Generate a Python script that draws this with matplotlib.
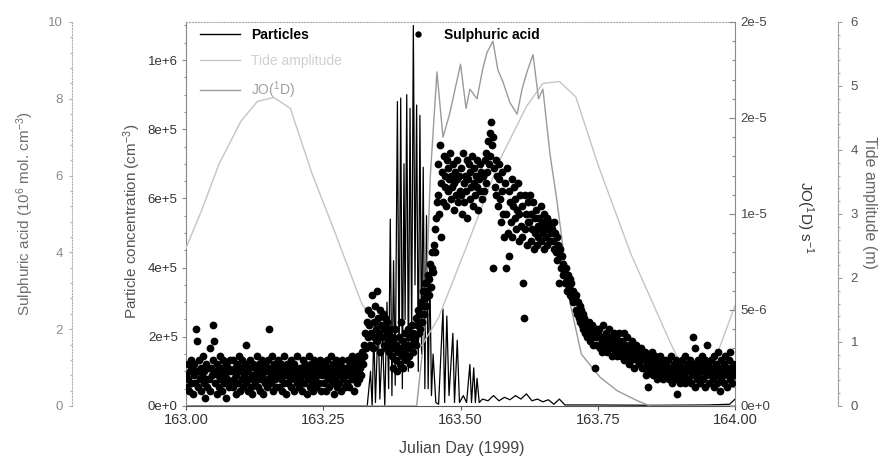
import numpy as np
import matplotlib.pyplot as plt
from matplotlib.lines import Line2D
from matplotlib.ticker import AutoMinorLocator, FixedLocator, FixedFormatter

plt.rcParams['font.family'] = ['Liberation Sans', 'DejaVu Sans']
plt.rcParams['mathtext.default'] = 'regular'

# ---------------------------------------------------------------------------
# data
# ---------------------------------------------------------------------------

# particle concentration, units of 1e5 cm-3
particle_day = [163.000, 163.330, 163.336, 163.339, 163.342, 163.345, 163.350, 163.353,
                163.358, 163.362, 163.366, 163.369, 163.372, 163.375, 163.378, 163.381,
                163.385, 163.388, 163.391, 163.394, 163.397, 163.399, 163.402, 163.405,
                163.408, 163.411, 163.414, 163.417, 163.420, 163.423, 163.426, 163.429,
                163.432, 163.435, 163.438, 163.441, 163.444, 163.447, 163.450, 163.455,
                163.460, 163.468, 163.471, 163.475, 163.479, 163.486, 163.489, 163.494,
                163.498, 163.505, 163.511, 163.517, 163.520, 163.524, 163.527, 163.530,
                163.534, 163.540, 163.550, 163.560, 163.570, 163.580, 163.590, 163.600,
                163.610, 163.620, 163.630, 163.640, 163.650, 163.660, 163.670, 163.680,
                163.690, 163.750, 163.850, 163.950, 163.990, 164.000]
particle_conc = [0, 0, 1.0, 0, 2.2, 0.1, 2.5, 0.2,
                 2.0, 0, 3.0, 0.5, 5.4, 0.3, 4.2, 0.6,
                 8.8, 1.0, 8.9, 0.5, 7.0, 2.5, 9.0, 1.0,
                 8.6, 2.0, 11.0, 3.5, 8.7, 1.0, 8.4, 1.5,
                 6.9, 0.5, 5.5, 0.5, 4.0, 0.3, 1.5, 0.1,
                 0.05, 2.8, 0.1, 2.6, 0.3, 2.1, 0.1, 1.9,
                 0.1, 0.3, 0.1, 1.2, 0.1, 1.1, 0.1, 0.8,
                 0.1, 0.2, 0.15, 0.3, 0.15, 0.25, 0.18, 0.3,
                 0.2, 0.35, 0.15, 0.2, 0.12, 0.18, 0.05, 0.2,
                 0.03, 0.03, 0.02, 0.03, 0.05, 0.2]

# tide amplitude (m)
tide_day = [163.00, 163.03, 163.06, 163.10, 163.13, 163.16, 163.19, 163.23, 163.27,
            163.32, 163.36, 163.40, 163.43, 163.46, 163.52, 163.57, 163.62, 163.65,
            163.68, 163.71, 163.75, 163.81, 163.88, 163.90, 163.94, 163.96, 164.00]
tide_m = [2.47, 3.09, 3.78, 4.45, 4.76, 4.82, 4.65, 3.62, 2.74,
          1.60, 1.03, 0.84, 0.95, 1.38, 2.69, 3.82, 4.68, 5.04,
          5.07, 4.83, 3.78, 2.38, 1.03, 0.67, 0.51, 0.64, 1.57]

# JO(1D), units of 1e-6 s-1
jo_day = [163.00, 163.42, 163.435, 163.445, 163.457, 163.468, 163.48, 163.49, 163.50,
          163.51, 163.517, 163.53, 163.54, 163.548, 163.559, 163.568, 163.577, 163.59,
          163.603, 163.612, 163.621, 163.632, 163.642, 163.65, 163.663, 163.675, 163.69,
          163.70, 163.72, 163.754, 163.785, 163.82, 163.845, 164.00]
jo_val = [0, 0, 4.0, 12.0, 17.4, 14.0, 15.2, 16.5, 17.8,
          15.5, 16.5, 16.0, 17.5, 18.4, 19.0, 17.5, 16.9, 15.8,
          15.2, 16.5, 17.4, 18.3, 16.0, 16.5, 13.1, 10.8, 7.5,
          5.3, 2.7, 1.5, 0.8, 0.3, 0.0, 0.0]

# sulphuric acid (1e6 molecules cm-3), one row per hour of day 163, 2 min samples
acid_step_min = 2
acid_hourly = [
    [0.8, 0.5, 1.1, 0.7, 0.4, 0.9, 1.2, 0.6, 1.0, 0.3, 0.8, 1.1, 0.6, 2.0, 1.7,
     0.9, 0.5, 1.2, 0.7, 1.0, 0.4, 0.8, 1.3, 0.6, 0.9, 0.2, 1.1, 0.7, 0.5, 1.0],
    [0.7, 1.5, 0.4, 1.0, 0.8, 1.2, 2.1, 1.7, 0.6, 0.9, 0.3, 1.1, 0.8, 0.5, 1.3,
     0.7, 1.0, 0.4, 0.9, 1.2, 0.6, 0.8, 0.2, 1.1, 0.7, 1.0, 0.5, 0.9, 1.2, 0.6],
    [0.9, 0.5, 1.2, 0.7, 1.0, 0.3, 0.8, 1.1, 0.6, 1.3, 0.9, 0.4, 1.0, 0.7, 1.2,
     0.5, 0.8, 1.1, 0.6, 1.6, 0.9, 0.4, 1.0, 0.7, 1.2, 0.5, 0.8, 0.3, 1.1, 0.7],
    [0.6, 1.0, 0.8, 1.3, 0.5, 0.9, 1.1, 0.4, 0.7, 1.2, 0.8, 0.3, 1.0, 0.6, 1.1,
     0.9, 0.5, 1.2, 0.7, 2.0, 1.0, 0.6, 0.8, 1.3, 0.4, 0.9, 1.1, 0.7, 0.5, 1.0],
    [0.8, 1.2, 0.5, 0.9, 0.7, 1.1, 0.4, 1.0, 0.6, 1.3, 0.8, 0.3, 0.9, 1.1, 0.6,
     1.0, 0.7, 1.2, 0.5, 0.8, 1.0, 0.4, 1.1, 0.7, 0.9, 1.3, 0.6, 0.8, 0.5, 1.0],
    [0.7, 1.0, 0.4, 1.2, 0.8, 0.6, 1.1, 0.9, 0.3, 1.0, 0.7, 1.3, 0.5, 0.8, 1.1,
     0.6, 0.9, 0.4, 1.2, 0.7, 1.0, 0.5, 0.8, 1.1, 0.6, 0.9, 1.2, 0.4, 0.8, 1.0],
    [0.9, 0.6, 1.1, 0.4, 0.8, 1.2, 0.7, 1.0, 0.5, 0.9, 1.3, 0.6, 0.8, 1.1, 0.3,
     0.9, 0.7, 1.2, 0.5, 1.0, 0.8, 0.6, 1.1, 0.4, 0.9, 1.2, 0.7, 1.0, 0.5, 0.8],
    [1.0, 0.6, 1.2, 0.8, 0.5, 1.1, 0.9, 1.3, 0.7, 1.0, 0.4, 1.2, 0.8, 1.1, 0.6,
     0.9, 1.3, 0.7, 1.0, 1.2, 0.8, 1.4, 1.1, 1.6, 1.3, 1.9, 1.5, 2.2, 1.8, 2.5],
    [2.1, 1.6, 2.4, 1.9, 2.9, 1.5, 2.2, 1.8, 2.6, 2.0, 3.0, 1.7, 2.3, 1.9, 2.5,
     1.4, 2.1, 1.8, 2.4, 1.6, 2.0, 2.3, 1.5, 1.9, 2.2, 1.7, 1.4, 2.0, 1.6, 1.8],
    [1.3, 1.7, 1.0, 1.5, 2.0, 1.2, 1.6, 0.9, 1.4, 1.8, 1.1, 1.5, 2.2, 1.3, 1.7,
     1.0, 1.4, 1.9, 1.2, 1.6, 1.5, 2.0, 1.3, 1.8, 1.1, 1.6, 2.1, 1.4, 1.9, 1.7],
    [1.8, 2.3, 1.6, 2.1, 2.5, 1.9, 2.4, 2.0, 2.7, 2.2, 2.6, 3.0, 2.4, 2.8, 3.2,
     2.6, 3.0, 3.4, 2.9, 3.3, 3.7, 3.1, 3.6, 4.0, 3.5, 4.2, 4.6, 4.0, 4.9, 5.3],
    [5.5, 6.3, 5.0, 6.8, 5.8, 4.4, 6.1, 5.3, 6.5, 5.7, 6.0, 5.2, 6.4, 5.6, 6.2,
     5.9, 6.6, 5.4, 6.0, 5.7, 6.3, 5.1, 5.8, 6.1, 5.5, 6.4, 5.9, 5.3, 6.0, 5.6],
    [5.5, 6.2, 5.0, 6.6, 5.8, 5.3, 6.0, 5.6, 6.4, 4.9, 5.9, 6.3, 5.4, 6.1, 5.7,
     6.5, 5.2, 5.8, 6.2, 5.5, 6.0, 5.7, 6.4, 5.1, 5.9, 6.3, 5.6, 6.1, 5.4, 6.0],
    [6.0, 5.6, 6.4, 5.8, 6.6, 6.1, 6.9, 6.3, 7.1, 6.5, 7.4, 6.8, 7.0, 3.6, 6.2,
     5.7, 6.4, 5.5, 6.0, 5.2, 5.9, 6.3, 5.4, 4.8, 6.1, 5.6, 5.0, 4.4, 5.8, 3.6],
    [5.0, 6.2, 4.5, 5.6, 3.9, 5.3, 4.8, 5.9, 4.4, 5.2, 5.7, 4.9, 5.4, 4.6, 5.1,
     5.8, 4.3, 5.0, 5.5, 4.7, 5.2, 4.4, 3.2, 2.3, 5.5, 4.6, 5.0, 4.2, 4.8, 5.3],
    [4.8, 5.5, 4.3, 5.0, 4.6, 5.3, 4.1, 4.9, 4.5, 5.1, 4.2, 4.7, 4.4, 4.9, 4.6,
     5.2, 4.3, 4.8, 4.5, 5.0, 4.1, 4.7, 4.4, 4.9, 4.2, 4.6, 4.8, 4.3, 4.5, 4.7],
    [4.6, 4.3, 4.8, 4.1, 4.5, 4.0, 4.4, 3.8, 4.2, 3.2, 3.9, 4.1, 3.6, 3.9, 3.4,
     3.7, 3.5, 3.2, 3.6, 3.3, 3.0, 3.4, 3.1, 3.3, 2.9, 3.2, 2.8, 3.0, 2.7, 2.9],
    [2.8, 2.5, 2.9, 2.4, 2.7, 2.3, 2.6, 2.2, 2.5, 2.1, 2.4, 2.0, 2.3, 1.9, 2.2,
     2.0, 1.8, 2.1, 1.9, 2.2, 1.7, 2.0, 1.8, 2.1, 1.6, 1.9, 1.0, 1.8, 1.6, 2.0],
    [1.9, 1.6, 2.0, 1.5, 1.8, 1.4, 1.7, 2.1, 1.5, 1.8, 1.6, 1.9, 1.4, 1.7, 1.5,
     2.0, 1.6, 1.8, 1.3, 1.7, 1.5, 1.9, 1.4, 1.6, 1.8, 1.3, 1.7, 1.5, 1.9, 1.4],
    [1.6, 1.3, 1.7, 1.5, 1.9, 1.2, 1.6, 1.4, 1.8, 1.3, 1.5, 1.1, 1.6, 1.4, 1.2,
     1.7, 1.3, 1.5, 1.0, 1.4, 1.6, 1.2, 1.5, 1.3, 1.1, 1.4, 1.2, 1.5, 1.0, 1.3],
    [1.3, 1.0, 1.4, 0.8, 1.2, 1.1, 0.5, 1.3, 0.9, 1.2, 1.0, 1.4, 0.8, 1.1, 1.0,
     1.3, 0.9, 1.2, 0.7, 1.1, 1.0, 1.3, 0.8, 1.2, 0.9, 1.1, 0.7, 1.0, 1.2, 0.9],
    [1.1, 0.8, 1.2, 0.7, 1.0, 0.9, 1.3, 0.6, 1.0, 0.8, 1.1, 0.7, 1.2, 0.9, 0.3,
     1.0, 0.8, 1.1, 0.6, 0.9, 1.2, 0.7, 1.0, 0.8, 1.3, 0.6, 0.9, 1.1, 0.7, 1.0],
    [0.9, 1.2, 0.6, 1.0, 0.8, 1.8, 1.1, 0.5, 1.5, 0.9, 0.7, 1.2, 0.8, 1.0, 0.6,
     1.1, 0.9, 1.3, 0.7, 1.0, 0.5, 1.2, 0.8, 1.6, 0.9, 1.1, 0.6, 1.0, 0.8, 1.2],
    [1.0, 0.7, 1.3, 0.5, 0.9, 1.1, 0.6, 1.4, 0.8, 1.0, 0.4, 1.2, 0.7, 0.9, 0.8,
     1.1, 0.6, 1.3, 0.9, 0.5, 1.0, 0.8, 1.2, 0.7, 1.4, 0.9, 0.6, 1.1, 0.8, 1.0],
]

particle_ticks = [0, 2e5, 4e5, 6e5, 8e5, 1e6]
particle_labels = ['0e+0', '2e+5', '4e+5', '6e+5', '8e+5', '1e+6']
jo_ticks = [0, 5e-6, 1e-5, 1.5e-5, 2e-5]
jo_labels = ['0e+0', '5e-6', '1e-5', '2e-5', '2e-5']
day_ticks = [163.00, 163.25, 163.50, 163.75, 164.00]

# ---------------------------------------------------------------------------

acid_day = []
acid_val = []
for h, row in enumerate(acid_hourly):
    for i, v in enumerate(row):
        acid_day.append(163 + (h * 60 + i * acid_step_min) / 1440.0)
        acid_val.append(v)

TIDE_C = '#c4c4c4'
JO_C = '#9a9a9a'
AX_C = '#888888'

fig = plt.figure(figsize=(8.8, 4.66), dpi=100)
ax = fig.add_axes([0.2114, 0.1288, 0.6239, 0.824])
ax_tide = ax.twinx()
ax_jo = ax.twinx()
ax_acid = ax.twinx()

ax.plot(particle_day, np.array(particle_conc) * 1e5, color='black', lw=0.9)
ax_tide.plot(tide_day, tide_m, color=TIDE_C, lw=1.0)
ax_jo.plot(jo_day, np.array(jo_val) * 1e-6, color=JO_C, lw=1.0)
ax_acid.plot(acid_day, acid_val, 'o', ms=5.6, mfc='black', mec='none')

ax.set_xlim(163.0, 164.0)
ax.set_ylim(0, 1.11e6)
ax_tide.set_ylim(0, 6)
ax_jo.set_ylim(0, 2e-5)
ax_acid.set_ylim(0, 10)

# x axis
ax.set_xticks(day_ticks)
ax.set_xticklabels(['%.2f' % d for d in day_ticks])
ax.tick_params(axis='x', labelsize=10.5, labelcolor='#333333', color='#555555',
               length=3, width=0.8, pad=2)
ax.set_xlabel('Julian Day (1999)', fontsize=11.5, color='#444444')
ax.xaxis.set_label_coords(0.503, -0.09)

# particle axis (inner left)
ax.yaxis.set_major_locator(FixedLocator(particle_ticks))
ax.yaxis.set_major_formatter(FixedFormatter(particle_labels))
ax.yaxis.set_minor_locator(AutoMinorLocator(4))
ax.tick_params(axis='y', which='both', labelsize=9.5, labelcolor='#333333', color=AX_C,
               width=0.8, pad=3)
ax.tick_params(axis='y', which='major', length=3)
ax.tick_params(axis='y', which='minor', length=1.5)
ax.set_ylabel(r'Particle concentration (cm$^{-3}$)', fontsize=11, color='#555555', va='center')
ax.yaxis.set_label_coords(-0.098, 0.48)
ax.spines['left'].set_color(AX_C)
ax.spines['bottom'].set_color('#555555')
ax.spines['top'].set_color('#aaaaaa')
ax.spines['top'].set_linestyle(':')
ax.spines['right'].set_visible(False)

# sulphuric acid axis (outer left)
ax_acid.yaxis.tick_left()
ax_acid.yaxis.set_label_position('left')
for s in ['top', 'right', 'bottom']:
    ax_acid.spines[s].set_visible(False)
ax_acid.spines['left'].set_position(('axes', -0.2077))
ax_acid.spines['left'].set_color('#b0b0b0')
ax_acid.spines['left'].set_linestyle(':')
ax_acid.set_yticks([0, 2, 4, 6, 8, 10])
ax_acid.yaxis.set_minor_locator(AutoMinorLocator(5))
ax_acid.tick_params(axis='y', which='both', labelsize=9.5, labelcolor='#8a8a8a',
                    color='#b0b0b0', width=0.8, pad=4)
ax_acid.tick_params(axis='y', which='minor', length=1.5)
ax_acid.tick_params(axis='y', which='major', length=2.5)
ax_acid.set_ylabel(r'Sulphuric acid (10$^{6}$ mol. cm$^{-3}$)', fontsize=11,
                   color='#707070', va='center')
ax_acid.yaxis.set_label_coords(-0.293, 0.5)

# JO(1D) axis (inner right)
for s in ['top', 'left', 'bottom']:
    ax_jo.spines[s].set_visible(False)
ax_jo.spines['right'].set_color(AX_C)
ax_jo.yaxis.set_major_locator(FixedLocator(jo_ticks))
ax_jo.yaxis.set_major_formatter(FixedFormatter(jo_labels))
ax_jo.yaxis.set_minor_locator(AutoMinorLocator(5))
ax_jo.tick_params(axis='y', which='both', direction='in', labelsize=9.5,
                  labelcolor='#444444', color=AX_C, width=0.8, pad=4)
ax_jo.tick_params(axis='y', which='major', length=4)
ax_jo.tick_params(axis='y', which='minor', length=2)
ax_jo.set_ylabel(r'JO($^1$D) s$^{-1}$', fontsize=11, color='#333333',
                 rotation=-90, va='center')
ax_jo.yaxis.set_label_coords(1.127, 0.49)

# tide axis (outer right)
for s in ['top', 'left', 'bottom']:
    ax_tide.spines[s].set_visible(False)
ax_tide.spines['right'].set_position(('axes', 1.1876))
ax_tide.spines['right'].set_color('#a0a0a0')
ax_tide.set_yticks([0, 1, 2, 3, 4, 5, 6])
ax_tide.yaxis.set_minor_locator(AutoMinorLocator(5))
ax_tide.tick_params(axis='y', which='both', labelsize=9.5, labelcolor='#555555',
                    color='#a0a0a0', width=0.8, pad=6)
ax_tide.tick_params(axis='y', which='major', length=3)
ax_tide.tick_params(axis='y', which='minor', length=1.5)
ax_tide.set_ylabel('Tide amplitude (m)', fontsize=11.5, color='#666666',
                   rotation=-90, va='center')
ax_tide.yaxis.set_label_coords(1.244, 0.53)

# legends
line_handles = [Line2D([], [], color='black', lw=1.0),
                Line2D([], [], color=TIDE_C, lw=1.0),
                Line2D([], [], color=JO_C, lw=1.0)]
leg1 = fig.legend(line_handles, ['Particles', 'Tide amplitude', r'JO($^1$D)'],
                  loc='upper left', bbox_to_anchor=(200 / 880, 1 - 28 / 466),
                  frameon=False, fontsize=10, handlelength=2.9, handletextpad=0.75,
                  labelspacing=0.85, borderpad=0, borderaxespad=0)
t1, t2, t3 = leg1.get_texts()
t1.set_fontweight('bold')
t2.set_color('#d0d0d0')
t3.set_color('#a0a0a0')

dot = Line2D([], [], ls='none', marker='o', ms=4.6, mfc='black', mec='none')
leg2 = fig.legend([dot], ['Sulphuric acid'], loc='upper left',
                  bbox_to_anchor=(411 / 880, 1 - 28 / 466), frameon=False, fontsize=10,
                  handlelength=1.0, handletextpad=1.4, borderpad=0, borderaxespad=0)
leg2.get_texts()[0].set_fontweight('bold')

fig.savefig('out.png', dpi=100)
